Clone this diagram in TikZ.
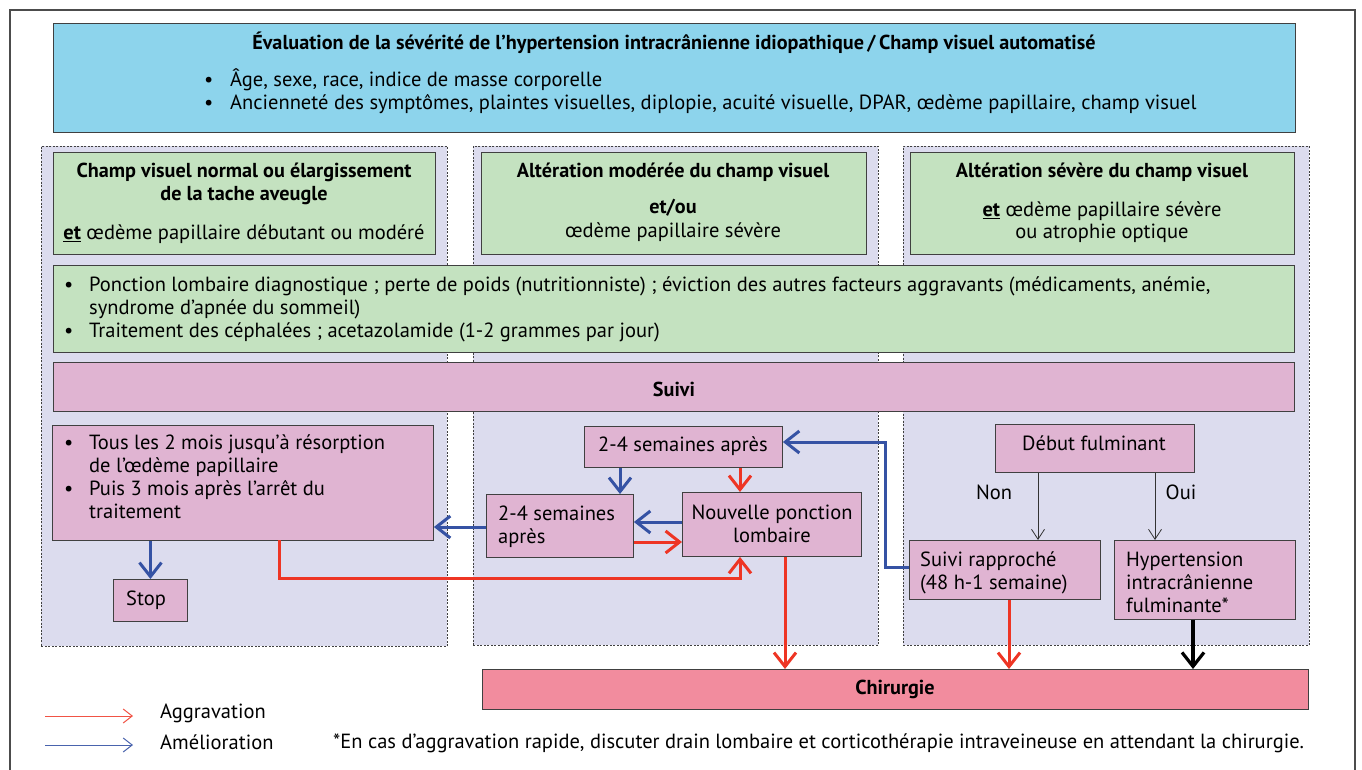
\documentclass[tikz,border=0pt]{standalone}
\usepackage{fontspec}
\setmainfont{PT Sans}
\usetikzlibrary{arrows.meta}
\definecolor{skyb}{HTML}{8DD4EC}
\definecolor{greenb}{HTML}{C4E2C0}
\definecolor{lav}{HTML}{DCDCEE}
\definecolor{pinkb}{HTML}{E0B4D2}
\definecolor{chir}{HTML}{F28C9E}
\definecolor{redA}{HTML}{EE3524}
\definecolor{blueA}{HTML}{3552A4}
\definecolor{edge}{HTML}{404040}
\newcommand{\mainsize}{\fontsize{20.5}{23}\selectfont}
\newcommand{\boldsize}{\fontsize{20.2}{23}\selectfont\bfseries}
\begin{document}
\begin{tikzpicture}[x=1pt,y=-1pt,
  font=\mainsize,
  bx/.style={draw=edge, line width=0.9pt, inner sep=0pt, anchor=north west},
  colbox/.style={draw=black!75, dash pattern=on 2pt off 1.5pt, line width=0.7pt, fill=lav, inner sep=0pt, anchor=north west},
  txt/.style={inner sep=0pt, font=\mainsize},
  btxt/.style={inner sep=0pt, font=\boldsize},
  redarr/.style={draw=redA, line width=3pt, -{Straight Barb[length=14pt,width=22pt]}},
  bluearr/.style={draw=blueA, line width=3pt, -{Straight Barb[length=14pt,width=22pt]}},
  blkarr/.style={draw=black, line width=3.2pt, -{Straight Barb[length=14pt,width=22pt]}},
  thinarr/.style={draw=black!80, line width=0.8pt, -{Straight Barb[length=10pt,width=13pt]}},
  legarr/.style={line width=1pt, -{Straight Barb[length=9pt,width=14pt]}}
]
\useasboundingbox (0,0) rectangle (1362,770);
\fill[white] (0,0) rectangle (1362,770);
% outer frame
\draw[draw=black!70, line width=1.2pt] (10,790) -- (10,10) -- (1355,10) -- (1355,790);

% top box
\node[bx, fill=skyb, minimum width=1242pt, minimum height=109pt] (top) at (53,23) {};
\node[btxt] (title) at (674,42.5) {Évaluation de la sévérité de l’hypertension intracrânienne idiopathique\,/\,Champ visuel automatisé};
\node[txt, anchor=west] (toplist) at (204,92.5) {\begin{tabular}{@{}l@{}l@{}}\makebox[26pt][l]{•} & Âge, sexe, race, indice de masse corporelle\\
 \makebox[26pt][l]{•} & Ancienneté des symptômes, plaintes visuelles, diplopie, acuité visuelle, DPAR, œdème papillaire, champ visuel\end{tabular}};

% columns
\node[colbox, minimum width=406pt, minimum height=500pt] (col1) at (41,146) {};
\node[colbox, minimum width=405pt, minimum height=499pt] (col2) at (473,146) {};
\node[colbox, minimum width=406pt, minimum height=499pt] (col3) at (903,146) {};

% green headers
\node[bx, fill=greenb, minimum width=382pt, minimum height=102pt] (g1) at (53,152) {};
\node[btxt] (g1a) at (244,172) {Champ visuel normal ou élargissement};
\node[btxt] (g1b) at (244,196) {de la tache aveugle};
\node[txt] (g1c) at (244,234) {\textbf{\underline{et}} œdème papillaire débutant ou modéré};

\node[bx, fill=greenb, minimum width=385pt, minimum height=102pt] (g2) at (481,152) {};
\node[btxt] (g2a) at (673,172) {Altération modérée du champ visuel};
\node[btxt] (g2b) at (673,208) {et/ou};
\node[txt] (g2c) at (673,232) {œdème papillaire sévère};

\node[bx, fill=greenb, minimum width=384pt, minimum height=102pt] (g3) at (910,152) {};
\node[btxt] (g3a) at (1102,172) {Altération sévère du champ visuel};
\node[txt] (g3b) at (1102,211) {\textbf{\underline{et}} œdème papillaire sévère};
\node[txt] (g3c) at (1102,233) {ou atrophie optique};

% wide green
\node[bx, fill=greenb, minimum width=1241pt, minimum height=87pt] (gw) at (53,265) {};
\node[txt, anchor=west] (gwl) at (64,309.5) {\begin{tabular}{@{}l@{}l@{}}\makebox[25pt][l]{•} & Ponction lombaire diagnostique ; perte de poids (nutritionniste) ; éviction des autres facteurs aggravants (médicaments, anémie,\\
 & syndrome d’apnée du sommeil)\\
 \makebox[25pt][l]{•} & Traitement des céphalées ; acetazolamide (1-2 grammes par jour)\end{tabular}};

% suivi
\node[bx, fill=pinkb, minimum width=1241pt, minimum height=49pt] (suivi) at (53,362) {};
\node[btxt] (suivit) at (674,389) {Suivi};

% left column
\node[bx, fill=pinkb, minimum width=381pt, minimum height=115pt] (tous) at (52,425) {};
\node[txt, anchor=north west] (tousl) at (64,433) {\begin{tabular}{@{}l@{}l@{}}\makebox[25pt][l]{•} & Tous les 2 mois jusqu’à résorption\\
 & de l’œdème papillaire\\
 \makebox[25pt][l]{•} & Puis 3 mois après l’arrêt du\\
 & traitement\end{tabular}};
\node[bx, fill=pinkb, minimum width=74pt, minimum height=42pt] (stop) at (113,579) {};
\node[txt] (stopt) at (146,600) {Stop};

% middle column
\node[bx, fill=pinkb, minimum width=198pt, minimum height=41pt] (s24a) at (584,426) {};
\node[txt] (s24at) at (683,446) {2-4 semaines après};
\node[bx, fill=pinkb, minimum width=147pt, minimum height=63pt] (s24b) at (486,494) {};
\node[txt, anchor=north west, align=left] (s24bt) at (498,506) {2-4 semaines\\après};
\node[bx, fill=pinkb, minimum width=179pt, minimum height=64pt] (npl) at (682,492) {};
\node[txt, align=center] (nplt) at (772,524) {Nouvelle ponction\\lombaire};

% right column
\node[bx, fill=pinkb, minimum width=199pt, minimum height=48pt] (debut) at (995,424) {};
\node[txt] (debutt) at (1094,443) {Début fulminant};
\node[bx, fill=pinkb, minimum width=191pt, minimum height=59pt] (srap) at (909,540) {};
\node[txt, anchor=north west, align=left] (srapt) at (920,552) {Suivi rapproché\\(48 h-1 semaine)};
\node[bx, fill=pinkb, minimum width=181pt, minimum height=79pt] (hic) at (1114,540) {};
\node[txt, anchor=north west, align=left] (hict) at (1126,552) {Hypertension\\intracrânienne\\fulminante*};
\node[txt] (non) at (994,492) {Non};
\node[txt] (oui) at (1181,492) {Oui};

% chirurgie
\node[bx, fill=chir, minimum width=826pt, minimum height=40pt] (chir) at (482,669) {};
\node[btxt] (chirt) at (895,689) {Chirurgie};

% arrows
\draw[bluearr] (tous.south -| stop.north) -- (stop.north);
\coordinate (r1) at (279,540);
\draw[redarr] (r1) |- (740,578) -- (npl.south -| 740,0);
\draw[bluearr] (s24b.west |- 0,527) -- (tous.east |- 0,527);
\draw[bluearr] (npl.west |- 0,522) -- (s24b.east |- 0,522);
\draw[redarr] (s24b.east |- 0,542) -- (npl.west |- 0,542);
\draw[bluearr] (s24a.south -| 620,0) -- (s24b.north -| 620,0);
\draw[redarr] (s24a.south -| 740,0) -- (npl.north -| 740,0);
\draw[redarr] (npl.south -| 785,0) -- (chir.north -| 785,0);
\draw[bluearr] (srap.west |- 0,567) -| (885,442) -- (s24a.east |- 0,442);
\draw[thinarr] (debut.south -| 1038,0) -- (srap.north -| 1038,0);
\draw[thinarr] (debut.south -| 1155,0) -- (hic.north -| 1155,0);
\draw[redarr] (srap.south -| 1009,0) -- (chir.north -| 1009,0);
\draw[blkarr] (hic.south -| 1193,0) -- (chir.north -| 1193,0);

% legend
\coordinate (la1) at (45,716); \coordinate (la2) at (133,716);
\coordinate (lb1) at (45,745); \coordinate (lb2) at (133,745);
\draw[legarr, draw=redA!85] (la1) -- (la2);
\draw[legarr, draw=blueA!90] (lb1) -- (lb2);
\node[txt, anchor=west] (lega) at (160,713) {Aggravation};
\node[txt, anchor=west] (legb) at (160,742) {Amélioration};
\node[txt, anchor=west] (foot) at (333,743) {*En cas d’aggravation rapide, discuter drain lombaire et corticothérapie intraveineuse en attendant la chirurgie.};
\end{tikzpicture}
\end{document}
